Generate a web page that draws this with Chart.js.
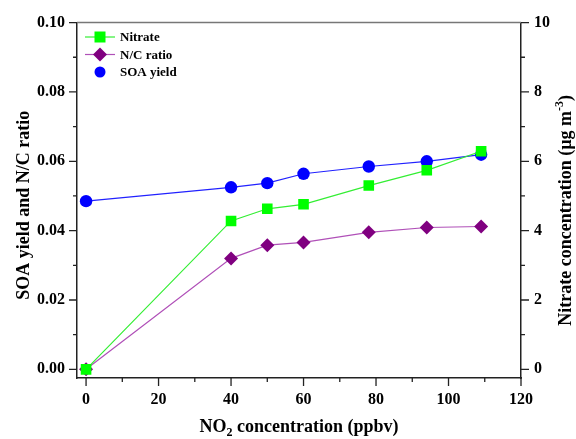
<!DOCTYPE html>
<html>
<head>
<meta charset="utf-8">
<script src="https://cdn.jsdelivr.net/npm/chart.js@4/dist/chart.umd.min.js"></script>
<style>
  html, body { margin: 0; padding: 0; background: #fff; }
</style>
</head>
<body>
<canvas id="chart" width="576" height="439"></canvas>
<script>
// NO2 concentration (ppbv)
const no2 = [0, 40, 50, 60, 78, 94, 109];
// right axis, ug m-3
const nitrate = [0, 4.28, 4.63, 4.76, 5.30, 5.74, 6.29];
// left axis
const ncRatio = [0, 0.0320, 0.0358, 0.0366, 0.0395, 0.0409, 0.0412];
const soaYield = [0.0485, 0.0525, 0.0537, 0.0564, 0.0585, 0.0600, 0.0619];

const xMajor = [0, 20, 40, 60, 80, 100, 120];
const xMinor = [10, 30, 50, 70, 90, 110];
const leftMajor = [0, 0.02, 0.04, 0.06, 0.08, 0.10];
const leftMinor = [0.01, 0.03, 0.05, 0.07, 0.09];
const rightMajor = [0, 2, 4, 6, 8, 10];
const rightMinor = [1, 3, 5, 7, 9];

const FONT = '"Liberation Serif", "Times New Roman", serif';
const AXIS = '#222';

function pts(ys) {
    return no2.map((x, i) => ({ x: x, y: ys[i] }));
}

// ticks, top frame, axis titles and the legend inside the plot
const decor = {
    id: 'decor',
    afterDraw(chart) {
        const ctx = chart.ctx;
        const a = chart.chartArea;
        const sx = chart.scales.x, sl = chart.scales.y, sr = chart.scales.y2;
        ctx.save();
        ctx.strokeStyle = '#777';
        ctx.lineWidth = 1.5;
        ctx.beginPath();
        ctx.moveTo(a.left, a.top);
        ctx.lineTo(a.right, a.top);
        ctx.stroke();

        ctx.strokeStyle = AXIS;
        ctx.lineWidth = 1.3;
        ctx.beginPath();
        function tickX(v, len) {
            let p = sx.getPixelForValue(v);
            ctx.moveTo(p, a.bottom); ctx.lineTo(p, a.bottom + len);
        }
        function tickL(v, len) {
            let p = sl.getPixelForValue(v);
            ctx.moveTo(a.left, p); ctx.lineTo(a.left - len, p);
        }
        function tickR(v, len) {
            let p = sr.getPixelForValue(v);
            ctx.moveTo(a.right, p); ctx.lineTo(a.right + len, p);
        }
        xMajor.forEach(v => tickX(v, 8));
        xMinor.forEach(v => tickX(v, 4));
        leftMajor.forEach(v => tickL(v, 8));
        leftMinor.forEach(v => tickL(v, 4));
        rightMajor.forEach(v => tickR(v, 8));
        rightMinor.forEach(v => tickR(v, 4));
        ctx.stroke();

        // axis titles
        ctx.fillStyle = '#000';
        ctx.textBaseline = 'middle';
        const big = 'bold 18px ' + FONT;
        const small = 'bold 12px ' + FONT;

        // x title with subscript
        ctx.font = big;
        let t1 = 'NO', t3 = ' concentration (ppbv)';
        let w1 = ctx.measureText(t1).width, w3 = ctx.measureText(t3).width;
        ctx.font = small;
        let w2 = ctx.measureText('2').width;
        let x0 = (a.left + a.right) / 2 - (w1 + w2 + w3) / 2;
        let yT = 427;
        ctx.textAlign = 'left';
        ctx.font = big;
        ctx.fillText(t1, x0, yT);
        ctx.font = small;
        ctx.fillText('2', x0 + w1, yT + 6);
        ctx.font = big;
        ctx.fillText(t3, x0 + w1 + w2, yT);

        // left title
        ctx.save();
        ctx.translate(24, (a.top + a.bottom) / 2 + 5);
        ctx.rotate(-Math.PI / 2);
        ctx.textAlign = 'center';
        ctx.font = big;
        ctx.fillText('SOA yield and N/C ratio', 0, 0);
        ctx.restore();

        // right title with superscript
        ctx.save();
        ctx.translate(566, (a.top + a.bottom) / 2 + 10);
        ctx.rotate(-Math.PI / 2);
        ctx.font = big;
        let r1 = 'Nitrate concentration (\u00b5g m', r3 = ')';
        let q1 = ctx.measureText(r1).width, q3 = ctx.measureText(r3).width;
        ctx.font = small;
        let q2 = ctx.measureText('-3').width;
        let s0 = -(q1 + q2 + q3) / 2;
        ctx.textAlign = 'left';
        ctx.font = big;
        ctx.fillText(r1, s0, 0);
        ctx.font = small;
        ctx.fillText('-3', s0 + q1, -6);
        ctx.font = big;
        ctx.fillText(r3, s0 + q1 + q2, 0);
        ctx.restore();

        // legend
        const lx = 100, ly = 37, step = 17.5;
        chart.data.datasets.forEach((ds, i) => {
            let y = ly + i * step;
            if (ds.legendLine) {
                ctx.strokeStyle = ds.borderColor;
                ctx.lineWidth = 1.2;
                ctx.beginPath();
                ctx.moveTo(lx - 15, y); ctx.lineTo(lx + 15, y);
                ctx.stroke();
            }
            ctx.fillStyle = ds.pointBackgroundColor;
            ctx.beginPath();
            if (ds.pointStyle === 'rect') {
                ctx.rect(lx - 5.5, y - 5.5, 11, 11);
            } else if (ds.pointStyle === 'rectRot') {
                ctx.moveTo(lx, y - 7); ctx.lineTo(lx + 7, y);
                ctx.lineTo(lx, y + 7); ctx.lineTo(lx - 7, y);
                ctx.closePath();
            } else {
                ctx.arc(lx, y, 5.5, 0, Math.PI * 2);
            }
            ctx.fill();
            ctx.fillStyle = '#000';
            ctx.font = 'bold 13px ' + FONT;
            ctx.textAlign = 'left';
            ctx.textBaseline = 'middle';
            ctx.fillText(ds.label, 120, y + 1);
        });
        ctx.restore();
    }
};

const ctx = document.getElementById('chart').getContext('2d');
const chart = new Chart(ctx, {
    type: 'line',
    data: {
        datasets: [{
            label: 'Nitrate',
            data: pts(nitrate),
            yAxisID: 'y2',
            borderColor: '#33ee33',
            borderWidth: 1.2,
            pointStyle: 'rect',
            pointRadius: 7.5,
            pointBackgroundColor: '#00ff00',
            pointBorderColor: '#00ff00',
            pointBorderWidth: 0,
            legendLine: true
        }, {
            label: 'N/C ratio',
            data: pts(ncRatio),
            yAxisID: 'y',
            borderColor: '#b050b8',
            borderWidth: 1.2,
            pointStyle: 'rectRot',
            pointRadius: 7,
            pointBackgroundColor: '#800080',
            pointBorderColor: '#800080',
            pointBorderWidth: 0,
            legendLine: true
        }, {
            label: 'SOA yield',
            data: pts(soaYield),
            yAxisID: 'y',
            borderColor: '#2222ff',
            borderWidth: 1.2,
            pointStyle: 'circle',
            pointRadius: 6.2,
            pointBackgroundColor: '#0000ff',
            pointBorderColor: '#0000ff',
            pointBorderWidth: 0,
            legendLine: false
        }]
    },
    options: {
        responsive: false,
        animation: false,
        devicePixelRatio: 1,
        layout: { padding: { top: 20, left: 0, right: 0, bottom: 0 } },
        plugins: {
            legend: { display: false },
            tooltip: { enabled: false }
        },
        scales: {
            x: {
                type: 'linear',
                min: -2.5,
                max: 120,
                afterBuildTicks: s => { s.ticks = xMajor.map(v => ({ value: v })); },
                afterFit: s => { s.height = 61; },
                ticks: {
                    color: '#000',
                    padding: 12,
                    font: { family: FONT, size: 16, weight: 'bold' }
                },
                grid: { display: false, drawTicks: false },
                border: { display: true, color: AXIS, width: 1.5 }
            },
            y: {
                position: 'left',
                min: -0.0025,
                max: 0.10,
                afterBuildTicks: s => { s.ticks = leftMajor.map(v => ({ value: v })); },
                afterFit: s => { s.width = 77; },
                ticks: {
                    color: '#000',
                    padding: 12,
                    font: { family: FONT, size: 16, weight: 'bold' },
                    callback: v => v.toFixed(2)
                },
                grid: { display: false, drawTicks: false },
                border: { display: true, color: AXIS, width: 1.5 }
            },
            y2: {
                position: 'right',
                min: -0.25,
                max: 10,
                afterBuildTicks: s => { s.ticks = rightMajor.map(v => ({ value: v })); },
                afterFit: s => { s.width = 55; },
                ticks: {
                    color: '#000',
                    padding: 13,
                    font: { family: FONT, size: 16, weight: 'bold' },
                    callback: v => String(v)
                },
                grid: { display: false, drawTicks: false },
                border: { display: true, color: AXIS, width: 1.5 }
            }
        }
    },
    plugins: [decor]
});
</script>
</body>
</html>
